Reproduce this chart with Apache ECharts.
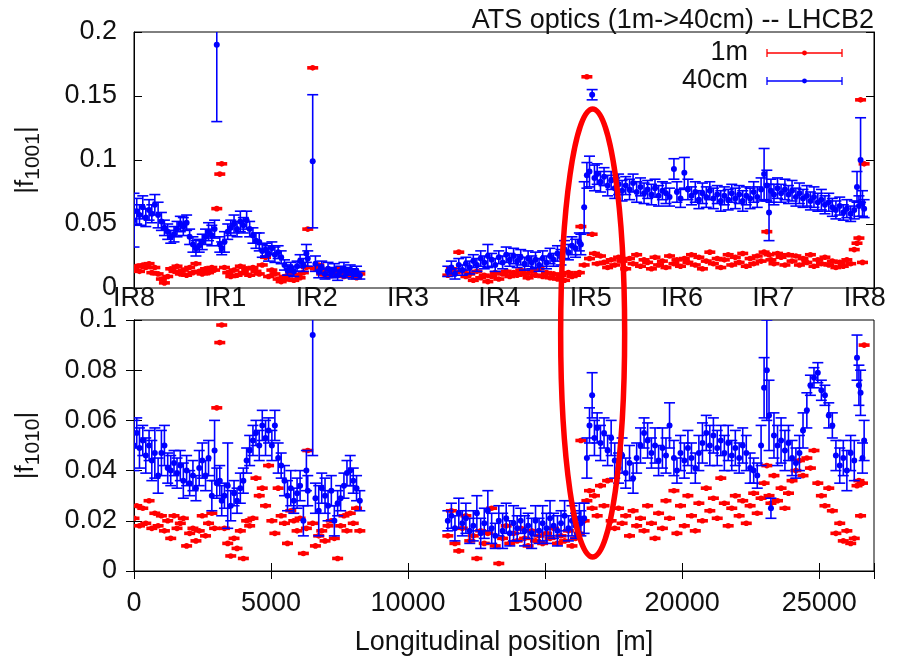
<!DOCTYPE html>
<html>
<head>
<meta charset="utf-8">
<title>ATS optics (1m->40cm) -- LHCB2</title>
<script src="https://cdn.jsdelivr.net/npm/echarts@6/dist/echarts.min.js"></script>
<style>
  html, body { margin: 0; padding: 0; background: #fff; }
  #chart { width: 897px; height: 657px; }
</style>
</head>
<body>
<div id="chart"></div>
<script>
// BPM longitudinal positions [m]
const s = [
  0, 100, 200, 320, 430, 550, 650, 760, 880, 1000,
  1110, 1230, 1340, 1460, 1570, 1690, 1800, 1920, 2030, 2150,
  2260, 2380, 2490, 2610, 2720, 2840, 2940, 3020, 3130, 3200,
  3300, 3420, 3530, 3650, 3760, 3880, 3990, 4110, 4220, 4340,
  4450, 4570, 4680, 4800, 4910, 5030, 5140, 5260, 5370, 5490,
  5600, 5720, 5830, 5950, 6060, 6180, 6290, 6340, 6520, 6620,
  6740, 6850, 6970, 7080, 7200, 7310, 7430, 7540, 7660, 7770,
  7890, 8000, 8120, 8240,
  11450, 11580, 11710, 11850, 11980, 12110, 12250, 12380, 12510, 12650,
  12780, 12910, 13050, 13180, 13310, 13450, 13580, 13710, 13850, 13980,
  14110, 14250, 14380, 14510, 14650, 14780, 14910, 15050, 15180, 15310,
  15450, 15580, 15710, 15850, 15980, 16110, 16250, 16305, 16425, 16524,
  16620, 16716, 16800, 16900, 17020, 17150, 17280, 17410, 17540, 17680,
  17810, 17940, 18080, 18210, 18340, 18480, 18610, 18740, 18880, 19010,
  19140, 19280, 19410, 19540, 19700, 19810, 19940, 20080, 20210, 20340,
  20480, 20610, 20740, 20880, 21010, 21140, 21280, 21410, 21540, 21680,
  21810, 21940, 22080, 22210, 22340, 22480, 22610, 22740, 22880, 22990,
  23090, 23170, 23240, 23350, 23480, 23610, 23750, 23880, 24010, 24150,
  24280, 24410, 24550, 24680, 24810, 24950, 25080, 25210, 25350, 25480,
  25610, 25750, 25880, 26010, 26150, 26280, 26380, 26450, 26510, 26580,
  26640
];

// |f1001|, 1m optics
const f1001_1m = [
  0.015, 0.017, 0.013, 0.018, 0.016, 0.019, 0.012, 0.016, 0.011, 0.007,
  0.004, 0.009, 0.015, 0.013, 0.017, 0.011, 0.014, 0.010, 0.016, 0.012,
  0.019, 0.013, 0.011, 0.015, 0.012, 0.016, 0.014, 0.062, 0.089, 0.097,
  0.016, 0.012, 0.009, 0.014, 0.010, 0.017, 0.012, 0.015, 0.010, 0.016,
  0.013, 0.011, 0.018, 0.024, 0.009, 0.014, 0.011, 0.007, 0.005, 0.009,
  0.007, 0.011, 0.006, 0.010, 0.008, 0.012, 0.016, 0.046, 0.172, 0.015,
  0.018, 0.011, 0.014, 0.009, 0.013, 0.010, 0.015, 0.012, 0.009, 0.014,
  0.010, 0.013, 0.008, 0.011,
  0.010, 0.015, 0.012, 0.028, 0.013, 0.009, 0.011, 0.006, 0.013, 0.008,
  0.010, 0.005, 0.009, 0.012, 0.007, 0.011, 0.013, 0.009, 0.012, 0.010,
  0.014, 0.011, 0.008, 0.013, 0.010, 0.015, 0.009, 0.012, 0.008, 0.011,
  0.007, 0.010, 0.006, 0.012, 0.009, 0.010, 0.012, 0.048, 0.018, 0.165,
  0.023, 0.042, 0.027, 0.019, 0.025, 0.020, 0.016, 0.022, 0.018, 0.024,
  0.021, 0.015, 0.023, 0.019, 0.026, 0.017, 0.022, 0.020, 0.015, 0.024,
  0.018, 0.021, 0.016, 0.025, 0.019, 0.022, 0.017, 0.023, 0.020, 0.026,
  0.018, 0.024, 0.015, 0.021, 0.028, 0.019, 0.023, 0.016, 0.022, 0.026,
  0.018, 0.024, 0.020, 0.027, 0.017, 0.023, 0.019, 0.025, 0.021, 0.028,
  0.044, 0.026, 0.022, 0.019, 0.027, 0.024, 0.018, 0.026, 0.021, 0.025,
  0.018, 0.023, 0.020, 0.026, 0.017, 0.022, 0.019, 0.024, 0.018, 0.021,
  0.016, 0.020, 0.017, 0.022, 0.019, 0.030, 0.035, 0.039, 0.147, 0.020,
  0.097
];

// |f1001|, 40cm optics, and its error
const f1001_40cm = [
  0.053, 0.060, 0.057, 0.063, 0.055, 0.061, 0.058, 0.065, 0.057, 0.052,
  0.047, 0.044, 0.040, 0.042, 0.046, 0.050, 0.048, 0.051, 0.040, 0.034,
  0.031, 0.033, 0.036, 0.040, 0.044, 0.041, 0.046, 0.190, 0.034, 0.031,
  0.036, 0.044, 0.047, 0.050, 0.046, 0.052, 0.049, 0.053, 0.046, 0.041,
  0.037, 0.036, 0.029, 0.030, 0.027, 0.031, 0.026, 0.028, 0.024, 0.018,
  0.014, 0.016, 0.013, 0.017, 0.021, 0.018, 0.027, 0.023, 0.099, 0.019,
  0.013, 0.016, 0.011, 0.015, 0.012, 0.014, 0.010, 0.013, 0.015, 0.012,
  0.014, 0.011, 0.013, 0.010,
  0.013, 0.016, 0.011, 0.018, 0.014, 0.019, 0.016, 0.021, 0.018, 0.023,
  0.020, 0.025, 0.022, 0.018, 0.024, 0.020, 0.026, 0.022, 0.025, 0.021,
  0.024, 0.019, 0.023, 0.020, 0.022, 0.018, 0.023, 0.020, 0.025, 0.022,
  0.027, 0.024, 0.030, 0.028, 0.033, 0.031, 0.036, 0.034, 0.063, 0.088,
  0.091, 0.151, 0.086, 0.089, 0.083, 0.087, 0.080, 0.084, 0.078, 0.081,
  0.076, 0.080, 0.077, 0.082, 0.075, 0.079, 0.074, 0.077, 0.073, 0.078,
  0.072, 0.076, 0.074, 0.071, 0.093, 0.075, 0.070, 0.090, 0.077, 0.072,
  0.075, 0.069, 0.074, 0.071, 0.076, 0.070, 0.073, 0.068, 0.072, 0.069,
  0.074, 0.070, 0.073, 0.068, 0.072, 0.070, 0.075, 0.071, 0.077, 0.089,
  0.080, 0.059, 0.076, 0.073, 0.078, 0.074, 0.077, 0.073, 0.076, 0.071,
  0.074, 0.070, 0.072, 0.068, 0.071, 0.067, 0.069, 0.065, 0.067, 0.063,
  0.061, 0.064, 0.059, 0.062, 0.058, 0.061, 0.079, 0.064, 0.100, 0.066,
  0.062
];
const f1001_40cm_err = [
  0.021, 0.010, 0.008, 0.009, 0.007, 0.008, 0.007, 0.008, 0.010, 0.007,
  0.006, 0.006, 0.005, 0.006, 0.006, 0.006, 0.007, 0.006, 0.006, 0.006,
  0.006, 0.005, 0.006, 0.006, 0.007, 0.008, 0.007, 0.060, 0.006, 0.005,
  0.008, 0.006, 0.006, 0.007, 0.006, 0.008, 0.006, 0.007, 0.006, 0.006,
  0.006, 0.007, 0.005, 0.005, 0.006, 0.005, 0.006, 0.005, 0.005, 0.004,
  0.004, 0.004, 0.004, 0.004, 0.005, 0.005, 0.007, 0.006, 0.052, 0.006,
  0.005, 0.005, 0.004, 0.005, 0.004, 0.005, 0.004, 0.004, 0.005, 0.004,
  0.004, 0.004, 0.004, 0.003,
  0.004, 0.005, 0.004, 0.005, 0.004, 0.005, 0.005, 0.005, 0.005, 0.006,
  0.005, 0.009, 0.005, 0.005, 0.005, 0.005, 0.006, 0.005, 0.006, 0.005,
  0.006, 0.005, 0.006, 0.005, 0.006, 0.005, 0.006, 0.005, 0.006, 0.005,
  0.006, 0.006, 0.007, 0.006, 0.007, 0.007, 0.007, 0.008, 0.020, 0.010,
  0.012, 0.004, 0.010, 0.008, 0.008, 0.007, 0.008, 0.007, 0.008, 0.008,
  0.008, 0.007, 0.008, 0.007, 0.008, 0.007, 0.008, 0.007, 0.008, 0.007,
  0.008, 0.007, 0.008, 0.007, 0.008, 0.008, 0.007, 0.012, 0.008, 0.007,
  0.008, 0.007, 0.008, 0.008, 0.007, 0.008, 0.007, 0.008, 0.007, 0.008,
  0.007, 0.008, 0.007, 0.008, 0.007, 0.008, 0.008, 0.008, 0.009, 0.020,
  0.012, 0.022, 0.009, 0.008, 0.008, 0.007, 0.008, 0.007, 0.008, 0.007,
  0.008, 0.007, 0.008, 0.007, 0.008, 0.007, 0.008, 0.007, 0.007, 0.007,
  0.007, 0.007, 0.006, 0.007, 0.006, 0.007, 0.012, 0.008, 0.033, 0.010,
  0.007
];

// |f1010|, 1m optics
const f1010_1m = [
  0.021, 0.026, 0.018, 0.025, 0.019, 0.028, 0.017, 0.023, 0.018, 0.022,
  0.016, 0.020, 0.013, 0.022, 0.017, 0.019, 0.021, 0.010, 0.015, 0.017,
  0.012, 0.016, 0.022, 0.014, 0.019, 0.023, 0.017, 0.065, 0.091, 0.098,
  0.017, 0.011, 0.006, 0.013, 0.009, 0.016, 0.005, 0.020, 0.018, 0.021,
  0.037, 0.030, 0.033, 0.026, 0.042, 0.020, 0.015, 0.033, 0.022, 0.019,
  0.011, 0.024, 0.020, 0.016, 0.021, 0.007, 0.017, 0.048, 0.019, 0.010,
  0.014, 0.016, 0.012, 0.018, 0.020, 0.013, 0.005, 0.018, 0.022, 0.016,
  0.023, 0.019, 0.025, 0.016,
  0.014, 0.024, 0.011, 0.008, 0.017, 0.022, 0.012, 0.014, 0.005, 0.016,
  0.011, 0.015, 0.025, 0.010, 0.003, 0.013, 0.018, 0.011, 0.015, 0.012,
  0.017, 0.013, 0.010, 0.016, 0.012, 0.014, 0.011, 0.015, 0.013, 0.017,
  0.011, 0.014, 0.012, 0.016, 0.010, 0.013, 0.015, 0.052, 0.020, 0.028,
  0.032, 0.025, 0.030, 0.022, 0.034, 0.026, 0.036, 0.020, 0.017, 0.025,
  0.019, 0.022, 0.014, 0.024, 0.018, 0.021, 0.016, 0.026, 0.019, 0.013,
  0.023, 0.017, 0.028, 0.021, 0.032, 0.015, 0.026, 0.018, 0.030, 0.022,
  0.016, 0.027, 0.020, 0.033, 0.024, 0.029, 0.021, 0.037, 0.027, 0.018,
  0.025, 0.030, 0.022, 0.028, 0.019, 0.026, 0.031, 0.023, 0.029, 0.035,
  0.042, 0.030, 0.027, 0.038, 0.028, 0.033, 0.025, 0.031, 0.036, 0.040,
  0.044, 0.038, 0.045, 0.041, 0.048, 0.035, 0.030, 0.026, 0.033, 0.024,
  0.015, 0.019, 0.012, 0.016, 0.011, 0.013, 0.034, 0.036, 0.022, 0.035,
  0.090
];

// |f1010|, 40cm optics, and its error
const f1010_40cm = [
  0.050, 0.055, 0.049, 0.052, 0.046, 0.050, 0.044, 0.047, 0.038, 0.047,
  0.050, 0.041, 0.040, 0.043, 0.039, 0.042, 0.036, 0.040, 0.035, 0.038,
  0.033, 0.041, 0.044, 0.038, 0.045, 0.030, 0.048, 0.035, 0.036, 0.028,
  0.030, 0.034, 0.026, 0.031, 0.028, 0.033, 0.036, 0.044, 0.048, 0.052,
  0.055, 0.050, 0.058, 0.053, 0.056, 0.050, 0.058, 0.045, 0.042, 0.036,
  0.030, 0.033, 0.028, 0.031, 0.034, 0.020, 0.040, 0.032, 0.094, 0.029,
  0.024, 0.033, 0.030, 0.026, 0.032, 0.020, 0.027, 0.029, 0.034, 0.039,
  0.040, 0.036, 0.033, 0.028,
  0.020, 0.022, 0.017, 0.023, 0.019, 0.021, 0.016, 0.018, 0.023, 0.015,
  0.019, 0.024, 0.017, 0.014, 0.020, 0.016, 0.021, 0.015, 0.019, 0.017,
  0.020, 0.016, 0.018, 0.015, 0.020, 0.016, 0.019, 0.017, 0.021, 0.018,
  0.016, 0.019, 0.022, 0.017, 0.020, 0.018, 0.021, 0.019, 0.021, 0.045,
  0.058, 0.070, 0.053, 0.057, 0.051, 0.055, 0.048, 0.053, 0.044, 0.041,
  0.046, 0.039, 0.043, 0.037, 0.045, 0.050, 0.055, 0.052, 0.047, 0.050,
  0.044, 0.049, 0.046, 0.058, 0.045, 0.040, 0.047, 0.044, 0.049, 0.045,
  0.041, 0.047, 0.051, 0.055, 0.050, 0.054, 0.049, 0.052, 0.047, 0.051,
  0.046, 0.049, 0.045, 0.050, 0.047, 0.041, 0.040, 0.038, 0.050, 0.073,
  0.080, 0.062, 0.025, 0.054, 0.050, 0.052, 0.048, 0.051, 0.045, 0.043,
  0.047, 0.056, 0.064, 0.074, 0.077, 0.079, 0.072, 0.070, 0.062, 0.058,
  0.046, 0.042, 0.045, 0.040, 0.047, 0.044, 0.085, 0.074, 0.071, 0.045,
  0.052
];
const f1010_40cm_err = [
  0.010, 0.006, 0.008, 0.006, 0.007, 0.006, 0.008, 0.010, 0.007, 0.009,
  0.008, 0.006, 0.006, 0.005, 0.006, 0.006, 0.007, 0.006, 0.005, 0.006,
  0.005, 0.007, 0.007, 0.006, 0.007, 0.006, 0.012, 0.006, 0.006, 0.006,
  0.005, 0.017, 0.006, 0.005, 0.005, 0.006, 0.005, 0.005, 0.006, 0.006,
  0.005, 0.006, 0.006, 0.007, 0.005, 0.006, 0.006, 0.006, 0.005, 0.006,
  0.006, 0.007, 0.005, 0.006, 0.006, 0.006, 0.008, 0.006, 0.048, 0.006,
  0.010, 0.006, 0.007, 0.006, 0.006, 0.006, 0.005, 0.005, 0.005, 0.005,
  0.006, 0.005, 0.005, 0.004,
  0.004, 0.005, 0.005, 0.006, 0.005, 0.006, 0.005, 0.006, 0.007, 0.006,
  0.006, 0.008, 0.006, 0.005, 0.006, 0.007, 0.006, 0.005, 0.007, 0.005,
  0.005, 0.006, 0.005, 0.006, 0.006, 0.005, 0.007, 0.006, 0.007, 0.005,
  0.006, 0.005, 0.006, 0.005, 0.006, 0.005, 0.006, 0.005, 0.006, 0.008,
  0.007, 0.009, 0.007, 0.006, 0.007, 0.006, 0.006, 0.007, 0.007, 0.006,
  0.007, 0.006, 0.007, 0.006, 0.006, 0.007, 0.006, 0.007, 0.006, 0.007,
  0.006, 0.008, 0.007, 0.009, 0.007, 0.005, 0.007, 0.007, 0.007, 0.006,
  0.006, 0.007, 0.008, 0.007, 0.008, 0.007, 0.007, 0.006, 0.007, 0.007,
  0.006, 0.007, 0.006, 0.007, 0.007, 0.006, 0.005, 0.005, 0.008, 0.012,
  0.020, 0.014, 0.004, 0.009, 0.008, 0.009, 0.008, 0.007, 0.007, 0.006,
  0.007, 0.007, 0.007, 0.004, 0.004, 0.004, 0.004, 0.004, 0.005, 0.005,
  0.006, 0.007, 0.007, 0.008, 0.007, 0.008, 0.009, 0.008, 0.009, 0.006,
  0.008
];

// interaction regions along the ring (ring length / 8 apart, starting at IR8)
const irNames = ['IR8', 'IR1', 'IR2', 'IR3', 'IR4', 'IR5', 'IR6', 'IR7', 'IR8'];
const circumference = 26659;
const irStep = circumference / 8;

const FONT = 'Liberation Sans';
const TXT = '#111';
const RED = '#ff0000';
const BLUE = '#0000ff';

let myChart = echarts.init(document.getElementById('chart'), null, { renderer: 'canvas' });

// point with a vertical error bar and end caps
function errorBars(color) {
    return function (params, api) {
        let x = api.value(0), y = api.value(1), e = api.value(2);
        let p = api.coord([x, y]);
        let hi = api.coord([x, y + e])[1];
        let lo = api.coord([x, y - e])[1];
        let st = { stroke: color, lineWidth: 1.6 };
        return {
            type: 'group',
            children: [
                { type: 'line', shape: { x1: p[0], y1: hi, x2: p[0], y2: lo }, style: st },
                { type: 'line', shape: { x1: p[0] - 5.5, y1: hi, x2: p[0] + 5.5, y2: hi }, style: st },
                { type: 'line', shape: { x1: p[0] - 5.5, y1: lo, x2: p[0] + 5.5, y2: lo }, style: st },
                { type: 'circle', shape: { cx: p[0], cy: p[1], r: 3 }, style: { fill: color } }
            ]
        };
    };
}
// point whose error bar is smaller than its caps
function smallMarks(color) {
    return function (params, api) {
        let p = api.coord([api.value(0), api.value(1)]);
        return {
            type: 'group',
            children: [
                { type: 'rect', shape: { x: p[0] - 5.5, y: p[1] - 1.8, width: 11, height: 3.6 }, style: { fill: color } },
                { type: 'circle', shape: { cx: p[0], cy: p[1], r: 2.8 }, style: { fill: color } }
            ]
        };
    };
}

const labelFont = { fontFamily: FONT, fontSize: 27, color: TXT };
const tickIn = { show: true, inside: true, length: 8, lineStyle: { color: '#000', width: 1 } };
const blackLine = { show: true, lineStyle: { color: '#000', width: 1 } };
const nameStyle = {
    fontFamily: FONT, fontSize: 26, color: TXT, lineHeight: 36,
    rich: { sub: { fontFamily: FONT, fontSize: 21, color: TXT, lineHeight: 16, verticalAlign: 'bottom' } }
};

let option = {
    animation: false,
    backgroundColor: '#fff',
    title: {
        text: 'ATS optics (1m->40cm) -- LHCB2',
        right: 23,
        top: 7,
        padding: 0,
        textStyle: { fontFamily: FONT, fontSize: 27, fontWeight: 'normal', color: TXT }
    },
    grid: [
        { left: 134, right: 23, top: 32, height: 256, show: true, borderColor: '#000', borderWidth: 1, backgroundColor: 'transparent' },
        { left: 134, right: 23, top: 320, height: 251, show: true, borderColor: '#000', borderWidth: 1, backgroundColor: 'transparent' }
    ],
    xAxis: [
        {
            gridIndex: 0, type: 'value', min: 0, max: 27000, interval: irStep,
            axisLine: { show: false }, axisTick: { show: false }, splitLine: { show: false },
            axisLabel: Object.assign({}, labelFont, {
                margin: -3,
                formatter: function (v) {
                    let k = Math.round(v / irStep);
                    return Math.abs(v - k * irStep) < 1 ? irNames[k] : '';
                }
            })
        },
        {
            gridIndex: 1, type: 'value', position: 'bottom', min: 0, max: 27000, interval: 5000,
            axisLine: blackLine, axisTick: tickIn, splitLine: { show: false },
            axisLabel: Object.assign({}, labelFont, {
                margin: 19,
                formatter: function (v) { return v % 5000 === 0 ? String(v) : ''; }
            }),
            name: 'Longitudinal position  [m]',
            nameLocation: 'middle',
            nameGap: 58,
            nameTextStyle: labelFont
        },
        {
            gridIndex: 1, type: 'value', position: 'top', min: 0, max: 27000, interval: 5000,
            axisLine: blackLine, axisTick: tickIn, splitLine: { show: false },
            axisLabel: { show: false }
        }
    ],
    yAxis: [
        {
            gridIndex: 0, type: 'value', position: 'left', min: 0, max: 0.2, interval: 0.05,
            axisLine: blackLine, axisTick: tickIn, splitLine: { show: false },
            axisLabel: Object.assign({}, labelFont, { margin: 17 }),
            name: '|f{sub|1001}|',
            nameLocation: 'middle',
            nameGap: 90,
            nameTextStyle: nameStyle
        },
        {
            gridIndex: 0, type: 'value', position: 'right', min: 0, max: 0.2, interval: 0.05,
            axisLine: blackLine, axisTick: tickIn, splitLine: { show: false }, axisLabel: { show: false }
        },
        {
            gridIndex: 1, type: 'value', position: 'left', min: 0, max: 0.1, interval: 0.02,
            axisLine: blackLine, axisTick: tickIn, splitLine: { show: false },
            axisLabel: Object.assign({}, labelFont, { margin: 17 }),
            name: '|f{sub|1010}|',
            nameLocation: 'middle',
            nameGap: 90,
            nameTextStyle: nameStyle
        },
        {
            gridIndex: 1, type: 'value', position: 'right', min: 0, max: 0.1, interval: 0.02,
            axisLine: blackLine, axisTick: tickIn, splitLine: { show: false }, axisLabel: { show: false }
        }
    ],
    series: [
        {
            name: '1m', type: 'custom', xAxisIndex: 0, yAxisIndex: 0, clip: true,
            renderItem: smallMarks(RED), encode: { x: 0, y: 1 },
            data: s.map((x, i) => [x, f1001_1m[i]])
        },
        {
            name: '40cm', type: 'custom', xAxisIndex: 0, yAxisIndex: 0, clip: true,
            renderItem: errorBars(BLUE), encode: { x: 0, y: 1 },
            data: s.map((x, i) => [x, f1001_40cm[i], f1001_40cm_err[i]])
        },
        {
            name: '1m', type: 'custom', xAxisIndex: 1, yAxisIndex: 2, clip: true,
            renderItem: smallMarks(RED), encode: { x: 0, y: 1 },
            data: s.map((x, i) => [x, f1010_1m[i]])
        },
        {
            name: '40cm', type: 'custom', xAxisIndex: 1, yAxisIndex: 2, clip: true,
            renderItem: errorBars(BLUE), encode: { x: 0, y: 1 },
            data: s.map((x, i) => [x, f1010_40cm[i], f1010_40cm_err[i]])
        }
    ]
};
myChart.setOption(option);

// legend with error-bar samples, and the red ellipse marking IR5
function legendRow(label, color, y) {
    let st = { stroke: color, lineWidth: 1.3 };
    return [
        { type: 'text', x: 748, y: y, style: { text: label, fontFamily: FONT, fontSize: 27, fill: TXT, align: 'right', verticalAlign: 'middle' } },
        { type: 'line', shape: { x1: 767, y1: y, x2: 842, y2: y }, style: st },
        { type: 'line', shape: { x1: 767, y1: y - 4, x2: 767, y2: y + 4 }, style: st },
        { type: 'line', shape: { x1: 842, y1: y - 4, x2: 842, y2: y + 4 }, style: st },
        { type: 'circle', shape: { cx: 804.5, cy: y, r: 2.4 }, style: { fill: color } }
    ];
}
let ir5x = myChart.convertToPixel({ xAxisIndex: 0 }, 5 * irStep);
myChart.setOption({
    graphic: legendRow('1m', RED, 53).concat(legendRow('40cm', BLUE, 81)).concat([
        { type: 'ellipse', shape: { cx: ir5x + 2, cy: 333, rx: 32, ry: 224 }, style: { fill: 'none', stroke: RED, lineWidth: 5.5 }, z: 100 }
    ])
});

window.addEventListener('resize', function () {
    setTimeout(function () {
        myChart.resize();
    }, 100);
});
</script>
</body>
</html>
